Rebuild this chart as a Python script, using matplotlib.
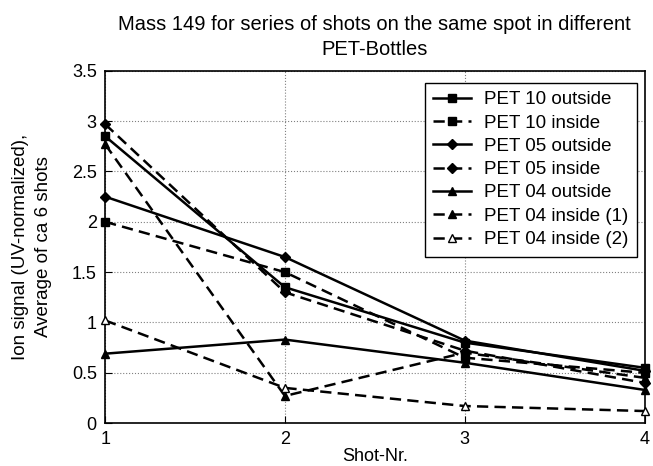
import numpy as np
import matplotlib
matplotlib.use("Agg")
import matplotlib.pyplot as plt

plt.rcParams["font.family"] = ["Liberation Sans", "DejaVu Sans"]

shots = [1, 2, 3, 4]
pet10_out = [2.85, 1.35, 0.80, 0.55]
pet10_in = [2.00, 1.50, 0.65, 0.50]
pet05_out = [2.25, 1.65, 0.82, 0.52]
pet05_in = [2.97, 1.30, 0.72, 0.40]
pet04_out = [0.69, 0.83, 0.60, 0.33]
pet04_in1 = [2.77, 0.27, 0.70, 0.45]
pet04_in2 = [1.02, 0.35, 0.17, 0.12]

series = [
    ("PET 10 outside", pet10_out, "-", "s", "black"),
    ("PET 10 inside", pet10_in, "--", "s", "black"),
    ("PET 05 outside", pet05_out, "-", "D", "black"),
    ("PET 05 inside", pet05_in, "--", "D", "black"),
    ("PET 04 outside", pet04_out, "-", "^", "black"),
    ("PET 04 inside (1)", pet04_in1, "--", "^", "black"),
    ("PET 04 inside (2)", pet04_in2, "--", "^", "white"),
]

fig = plt.figure(figsize=(6.53, 4.66), dpi=100)
ax = fig.add_axes([0.161, 0.092, 0.826, 0.756])
for label, vals, ls, mk, mfc in series:
    line, = ax.plot(shots, vals, linestyle=ls, marker=mk, color="black",
                    markerfacecolor=mfc, markeredgecolor="black",
                    markersize=5 if mk == "D" else 6, linewidth=1.8,
                    label=label, clip_on=False, zorder=3)
    if ls == "--":
        line.set_dashes((4.5, 2.5))

ax.set_xlim(1, 4)
ax.set_ylim(0, 3.5)
ax.set_xticks([1, 2, 3, 4])
ax.set_yticks([0, 0.5, 1, 1.5, 2, 2.5, 3, 3.5])
ax.set_yticklabels(["0", "0.5", "1", "1.5", "2", "2.5", "3", "3.5"])
ax.grid(True, linestyle=":", color="gray", linewidth=0.8)
ax.tick_params(labelsize=13, direction="in", length=5, pad=6)
ax.set_xlabel("Shot-Nr.", fontsize=13, labelpad=0)
ax.set_ylabel("Ion signal (UV-normalized),\nAverage of ca 6 shots", fontsize=13.5,
              labelpad=14, linespacing=1.5)
fig.text(0.574, 1 - 37 / 466,
         "Mass 149 for series of shots on the same spot in different\nPET-Bottles",
         fontsize=14.5, ha="center", va="center", linespacing=1.35)
for s in ax.spines.values():
    s.set_linewidth(1.2)

leg = ax.legend(loc="upper right", bbox_to_anchor=(1.003, 0.993), fontsize=13.5,
                fancybox=False, edgecolor="black", framealpha=1,
                handlelength=2.0, labelspacing=0.33, borderpad=0.45,
                handletextpad=0.7)
leg.get_frame().set_linewidth(1.0)

fig.savefig("out.png", dpi=100)
